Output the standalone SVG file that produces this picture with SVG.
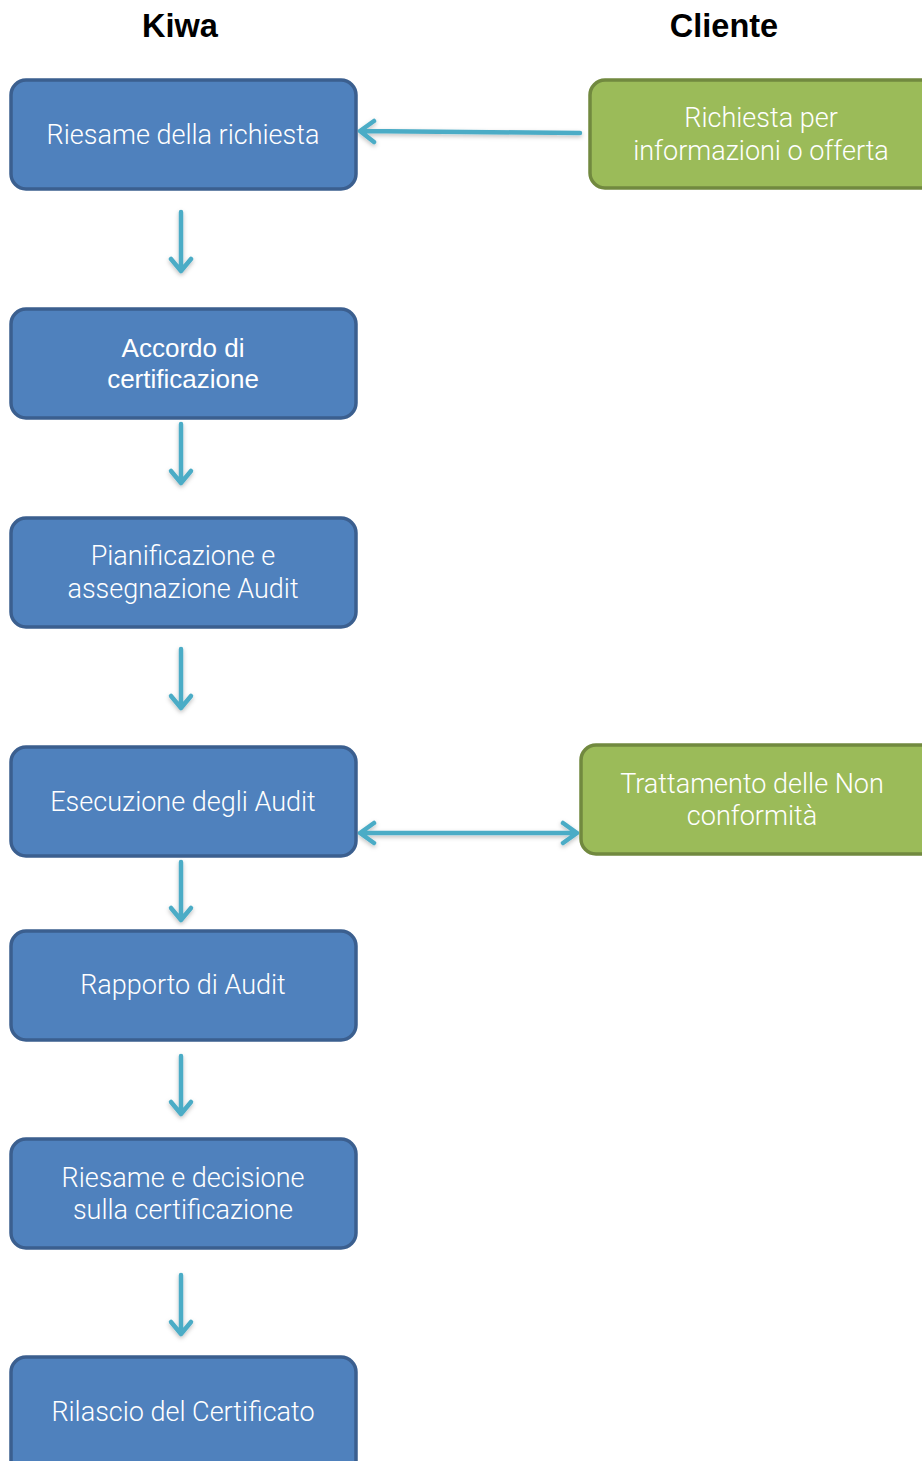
<svg xmlns="http://www.w3.org/2000/svg" width="922" height="1461" viewBox="0 0 922 1461">
<style>
.b{fill:#4f81bd;stroke:#3b5f8f;stroke-width:3.5}
.g{fill:#9bbb59;stroke:#71893f;stroke-width:3.5}
.t{font-family:Roboto,"Open Sans","Liberation Sans",sans-serif;font-weight:300;font-size:27px;fill:#ffffff;text-anchor:middle}
.tr{font-family:"Liberation Sans",sans-serif;font-size:26px;fill:#ffffff;text-anchor:middle}
.h{font-family:"Liberation Sans",sans-serif;font-weight:bold;font-size:32.5px;fill:#000000;text-anchor:middle}
.c{stroke:#4bacc6;stroke-width:4.5;fill:none;stroke-linecap:round;stroke-linejoin:round}
</style>
<defs>
<filter id="sh" x="-20%" y="-20%" width="140%" height="140%"><feDropShadow dx="0" dy="2" stdDeviation="2" flood-color="#000" flood-opacity="0.25"/></filter>
</defs>
<rect width="922" height="1461" fill="#ffffff"/>
<text class="h" x="180" y="37">Kiwa</text>
<text class="h" x="724" y="37">Cliente</text>
<g id="connectors" filter="url(#sh)">
<g class="c">
<path d="M580 133 L360 131 M374 121 L360 131 L374 142"/>
<path d="M181 212 L181 271 M171 259 L181 271 L191 259"/>
<path d="M181 424 L181 483 M171 471 L181 483 L191 471"/>
<path d="M181 649 L181 708 M171 696 L181 708 L191 696"/>
<path d="M360 833 L577 833 M374 823 L360 833 L374 843 M563 823 L577 833 L563 843"/>
<path d="M181 862 L181 920 M171 908 L181 920 L191 908"/>
<path d="M181 1056 L181 1114 M171 1102 L181 1114 L191 1102"/>
<path d="M181 1275 L181 1334 M171 1322 L181 1334 L191 1322"/>
</g>
</g>
<g id="n1"><rect class="b" x="11" y="80" width="345" height="109" rx="15"/><text class="t" x="183" y="144">Riesame della richiesta</text></g>
<g id="n2"><rect class="b" x="11" y="309" width="345" height="109" rx="15"/><text class="tr" x="183" y="357">Accordo di</text><text class="tr" x="183" y="388">certificazione</text></g>
<g id="n3"><rect class="b" x="11" y="518" width="345" height="109" rx="15"/><text class="t" x="183" y="565">Pianificazione e</text><text class="t" x="183" y="598">assegnazione Audit</text></g>
<g id="n4"><rect class="b" x="11" y="747" width="345" height="109" rx="15"/><text class="t" x="183" y="811">Esecuzione degli Audit</text></g>
<g id="n5"><rect class="b" x="11" y="931" width="345" height="109" rx="15"/><text class="t" x="183" y="994">Rapporto di Audit</text></g>
<g id="n6"><rect class="b" x="11" y="1139" width="345" height="109" rx="15"/><text class="t" x="183" y="1187">Riesame e decisione</text><text class="t" x="183" y="1219">sulla certificazione</text></g>
<g id="n7"><rect class="b" x="11" y="1357" width="345" height="120" rx="15"/><text class="t" x="183" y="1421">Rilascio del Certificato</text></g>
<g id="g1"><rect class="g" x="590" y="80" width="350" height="108" rx="15"/><text class="t" x="761" y="127">Richiesta per</text><text class="t" x="761" y="160">informazioni o offerta</text></g>
<g id="g2"><rect class="g" x="581" y="745" width="359" height="109" rx="15"/><text class="t" x="752" y="793">Trattamento delle Non</text><text class="t" x="752" y="825">conformità</text></g>
</svg>
